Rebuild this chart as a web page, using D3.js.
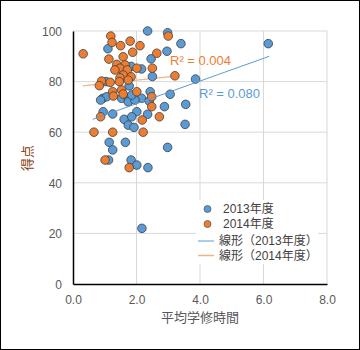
<!DOCTYPE html>
<html><head><meta charset="utf-8">
<script src="https://cdn.jsdelivr.net/npm/d3@7"></script>
<style>body{margin:0;background:#fff}svg{display:block}</style>
</head><body>
<script>
const xTicks = [0, 2, 4, 6, 8];
const yTicks = [0, 20, 40, 60, 80, 100];
const xTickLabels = ["0.0", "2.0", "4.0", "6.0", "8.0"];
const seriesNames = ["2013年度", "2014年度"];
const trendNames = ["線形（2013年度）", "線形（2014年度）"];
const r2Labels = ["R² = 0.080", "R² = 0.004"];
const xTitle = "平均学修時間";
const yTitle = "得点";

const blueX = [2.35,2.98,3.40,6.15,1.10,2.96,2.46,1.83,2.16,2.50,3.86,1.04,1.77,2.43,3.06,2.16,0.94,1.06,0.87,1.53,1.74,1.74,1.95,1.85,2.40,2.01,2.88,3.55,2.35,0.95,1.25,1.61,1.85,1.74,1.92,3.53,1.14,1.65,1.25,2.98,1.12,1.83,2.01,2.36,2.17];
const blueY = [100,99.3,95,95,93,92,89,86,85,82,81,80,78.3,76,75,73.4,73.4,74,72.7,73.4,73.4,72,72.7,74.7,72.3,68.1,70.1,71,67.1,68.1,67.2,65.1,66.1,62.8,61.9,63.1,56,56,53,54,49,49,47,46,22];
const orangeX = [0.32,1.19,1.23,1.50,1.80,2.11,3.00,1.88,2.64,1.13,1.58,1.38,1.64,1.48,1.32,1.71,2.01,2.50,1.58,1.83,1.48,1.74,3.21,0.90,1.17,0.83,1.46,1.25,1.53,1.27,1.58,2.01,2.48,2.48,2.18,2.72,0.87,0.66,1.25,2.21,1.01,1.77];
const orangeY = [91,98,95.5,94.2,96,94.2,98,91.6,91.2,88.9,89.8,86.8,86.6,85.3,84.6,84.6,85.3,85.3,82.6,81.9,81.5,80.6,82.3,80.2,79.7,78.4,80,76,76.7,74.3,75.1,76,74,70.1,64.8,66.1,66.1,60,60,60,49,46];
// trend lines: [xStart, xEnd, slope, intercept]
const blueTrend = [0.62, 6.18, 4.48, 62.3];
const orangeTrend = [0.31, 3.21, 1.34, 77.9];

const W = 360, H = 350;
const svg = d3.select("body").append("svg").attr("width", W).attr("height", H);
const font = "'Liberation Sans', Arial, 'Noto Sans CJK JP', sans-serif";
const blue = "#5b9bd5", orange = "#ed7d31";

svg.append("rect").attr("x",0.5).attr("y",0.5).attr("width",W-1).attr("height",H-1)
  .attr("fill","#fff").attr("stroke","#000").attr("stroke-width",1);

const x = d3.scaleLinear().domain([0, 8]).range([73, 327]);
const y = d3.scaleLinear().domain([0, 100]).range([284, 31]);

// gridlines
const g = svg.append("g");
g.selectAll(".vg").data(xTicks.slice(1)).join("line")
  .attr("x1", d => x(d)).attr("x2", d => x(d)).attr("y1", y(0)).attr("y2", y(100))
  .attr("stroke", "#d9d9d9").attr("stroke-width", 1);
g.selectAll(".hg").data(yTicks.slice(1)).join("line")
  .attr("x1", x(0)).attr("x2", x(8)).attr("y1", d => y(d)).attr("y2", d => y(d))
  .attr("stroke", "#d9d9d9").attr("stroke-width", 1);

// axes
const xAxis = d3.axisBottom(x).tickValues(xTicks).tickSize(0).tickFormat((d,i) => xTickLabels[i]);
const yAxis = d3.axisLeft(y).tickValues(yTicks).tickSize(0);
const gx = svg.append("g").attr("transform", `translate(0,${y(0)})`).call(xAxis);
const gy = svg.append("g").attr("transform", `translate(${x(0)},0)`).call(yAxis);
gx.select(".domain").attr("stroke", "#000").attr("stroke-width", 1.5);
gy.select(".domain").attr("stroke", "#000").attr("stroke-width", 1.5);
gx.selectAll("text").attr("dy", null).attr("y", 20).attr("font-size", 12).attr("font-family", font).attr("fill", "#595959");
gy.selectAll("text").attr("x", -11).attr("dy", "0.35em").attr("font-size", 12).attr("font-family", font).attr("fill", "#595959");

// trend lines
function trendPts(t){ return [t[0], t[1]].map(v => [v, t[2]*v + t[3]]); }
const line = d3.line().x(d => x(d[0])).y(d => y(d[1]));
svg.append("path").datum(trendPts(orangeTrend)).attr("d", line)
  .attr("stroke", "#f4b183").attr("stroke-width", 1.2).attr("fill", "none");

// points
const bluePts = blueX.map((v,i) => [v, blueY[i]]);
const orangePts = orangeX.map((v,i) => [v, orangeY[i]]);
svg.append("g").selectAll("circle").data(bluePts).join("circle")
  .attr("cx", d => x(d[0])).attr("cy", d => y(d[1])).attr("r", 4.3)
  .attr("fill", blue).attr("stroke", "#3f3f3f").attr("stroke-width", 0.8);
svg.append("g").selectAll("circle").data(orangePts).join("circle")
  .attr("cx", d => x(d[0])).attr("cy", d => y(d[1])).attr("r", 4.3)
  .attr("fill", orange).attr("stroke", "#3f3f3f").attr("stroke-width", 0.8);

svg.append("path").datum(trendPts(blueTrend)).attr("d", line)
  .attr("stroke", blue).attr("stroke-width", 1).attr("fill", "none");

// R² labels
svg.append("text").attr("x", 170).attr("y", 65).text(r2Labels[1])
  .attr("font-size", 13).attr("font-family", font).attr("fill", orange);
svg.append("text").attr("x", 199).attr("y", 98).text(r2Labels[0])
  .attr("font-size", 13).attr("font-family", font).attr("fill", blue);

// legend
const lg = svg.append("g");
lg.append("rect").attr("x", 196).attr("y", 200).attr("width", 122).attr("height", 64).attr("fill", "#fff");
[blue, orange].forEach((c, i) => {
  const cy = 209 + i * 15;
  lg.append("circle").attr("cx", 207.5).attr("cy", cy).attr("r", 3.5)
    .attr("fill", c).attr("stroke", "#3f3f3f").attr("stroke-width", 0.6);
  lg.append("text").attr("x", 223).attr("y", cy).attr("dy", "0.35em").text(seriesNames[i])
    .attr("font-size", 12).attr("font-family", font).attr("fill", "#404040");
});
[blue, "#f4b183"].forEach((c, i) => {
  const cy = 241 + i * 14.5;
  lg.append("line").attr("x1", 198).attr("x2", 214).attr("y1", cy).attr("y2", cy)
    .attr("stroke", c).attr("stroke-width", i ? 1.5 : 1);
  lg.append("text").attr("x", 219).attr("y", cy).attr("dy", "0.35em").text(trendNames[i])
    .attr("font-size", 12).attr("font-family", font).attr("fill", "#404040");
});

// axis titles
svg.append("text").attr("x", 200).attr("y", 322).attr("text-anchor", "middle").text(xTitle)
  .attr("font-size", 13).attr("font-family", font).attr("fill", "#595959");
svg.append("text").attr("transform", "translate(32,158) rotate(-90)").attr("text-anchor", "middle").text(yTitle)
  .attr("font-size", 13).attr("font-family", font).attr("fill", "#843c0c");
</script>
</body></html>
